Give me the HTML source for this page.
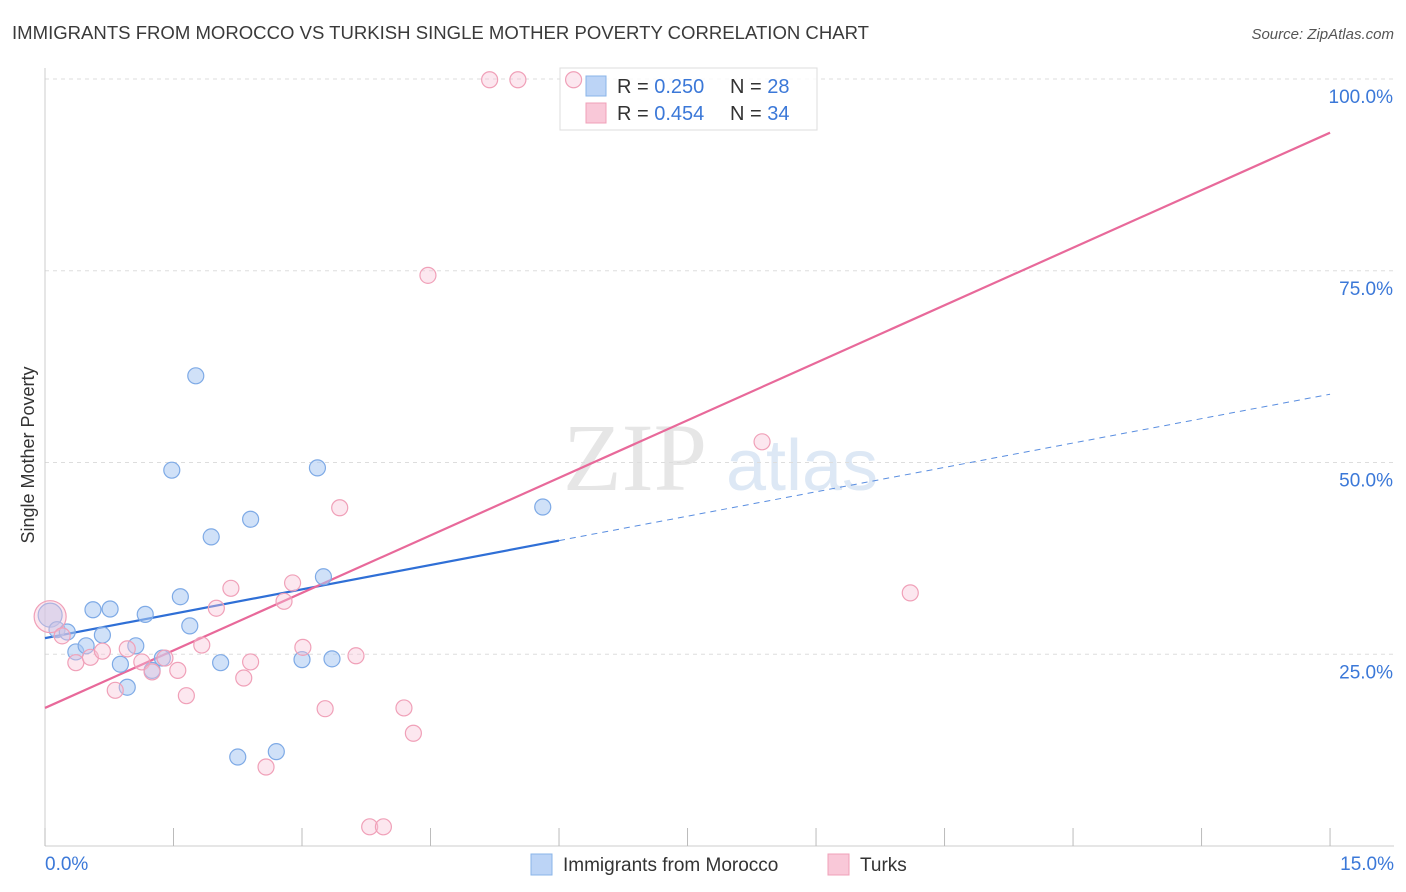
<!DOCTYPE html>
<html><head><meta charset="utf-8"><style>
body{margin:0;background:#fff;font-family:"Liberation Sans",sans-serif;}
svg{display:block}
</style></head><body>
<svg id="chart" width="1406" height="892" xmlns="http://www.w3.org/2000/svg">
<text x="12" y="39" font-size="18" fill="#3a3a3a" textLength="857" lengthAdjust="spacingAndGlyphs">IMMIGRANTS FROM MOROCCO VS TURKISH SINGLE MOTHER POVERTY CORRELATION CHART</text>
<text x="1394" y="39" font-size="15" fill="#555" text-anchor="end" font-style="italic">Source: ZipAtlas.com</text>
<text x="34" y="455" font-size="18" fill="#333" text-anchor="middle" transform="rotate(-90 34 455)">Single Mother Poverty</text>
<g>
<text x="635" y="490" font-size="96" fill="#e6e6e6" text-anchor="middle" font-family="Liberation Serif,serif">ZIP</text>
<text x="802" y="490" font-size="72" fill="#dde8f5" text-anchor="middle">atlas</text>
</g>
<g id="grid"></g><g id="axes"></g>
<g>
<rect x="560" y="68" width="257" height="62" fill="#fff" fill-opacity="0.85" stroke="#ddd"/>
<rect x="586" y="76" width="20" height="20" fill="#bcd4f6" stroke="#8ab4e8"/>
<text x="617" y="93" font-size="20" fill="#333">R = <tspan fill="#3b78d8">0.250</tspan></text>
<text x="730" y="93" font-size="20" fill="#333">N = <tspan fill="#3b78d8">28</tspan></text>
<rect x="586" y="103" width="20" height="20" fill="#f9c8d8" stroke="#f0a0b8"/>
<text x="617" y="120" font-size="20" fill="#333">R = <tspan fill="#3b78d8">0.454</tspan></text>
<text x="730" y="120" font-size="20" fill="#333">N = <tspan fill="#3b78d8">34</tspan></text>
</g>
<g id="trends"></g><g id="pts"></g>
<g>
<rect x="531" y="854" width="21" height="21" fill="#bcd4f6" stroke="#8ab4e8"/>
<text x="563" y="871" font-size="19" fill="#333">Immigrants from Morocco</text>
<rect x="828" y="854" width="21" height="21" fill="#f9c8d8" stroke="#f0a0b8"/>
<text x="860" y="871" font-size="19" fill="#333">Turks</text>
</g>
</svg>
<script>
const blueX=[0.06,0.14,0.26,0.36,0.48,0.56,0.67,0.76,0.88,0.96,1.06,1.17,1.25,1.37,1.48,1.58,1.69,1.76,1.94,2.05,2.25,2.40,2.70,3.00,3.18,3.25,3.35,5.81];
const blueY=[30.1,28.2,27.9,25.3,26.1,30.8,27.5,30.9,23.7,20.7,26.1,30.2,22.9,24.5,49.0,32.5,28.7,61.3,40.3,23.9,11.6,42.6,12.3,24.3,49.3,35.1,24.4,44.2];
const pinkX=[0.06,0.20,0.36,0.53,0.67,0.82,0.96,1.13,1.25,1.40,1.55,1.65,1.83,2.00,2.17,2.32,2.40,2.58,2.79,2.89,3.01,3.27,3.44,3.63,3.79,3.95,4.19,4.30,4.47,5.19,5.52,6.17,8.37,10.10];
const pinkY=[29.9,27.4,23.9,24.6,25.4,20.3,25.7,24.0,22.7,24.5,22.9,19.6,26.2,31.0,33.6,21.9,24.0,10.3,31.9,34.3,25.9,17.9,44.1,24.8,2.5,2.5,18.0,14.7,74.4,99.9,99.9,99.9,52.7,33.0];
const blueTrend=[27.1,2.12];
const pinkTrend=[18.0,5.0];
const yTicks=[25,50,75,100];
const xTicks=[0,1.5,3,4.5,6,7.5,9,10.5,12,13.5,15];
const NS='http://www.w3.org/2000/svg';
const X=v=>45+v*85.67, Y=v=>846-v*7.67;
function mk(p,t,a){const e=document.createElementNS(NS,t);for(const k in a)e.setAttribute(k,a[k]);document.getElementById(p).appendChild(e);return e;}
yTicks.forEach(t=>{
 const l=mk('grid','line',{x1:45,x2:1394,y1:Y(t),y2:Y(t),stroke:'#ddd','stroke-dasharray':'4,4'});
 
 
 const tx=mk('grid','text',{x:1393,y:Y(t)+24,'font-size':19,fill:'#3b78d8','text-anchor':'end'});
 tx.textContent=t.toFixed(1)+'%';
 
 
});
mk('axes','line',{x1:45,x2:45,y1:68,y2:846,stroke:'#ccc'});
mk('axes','line',{x1:45,x2:1394,y1:846,y2:846,stroke:'#ccc'});
xTicks.forEach(t=>{
 const l=mk('axes','line',{x1:X(t),x2:X(t),y1:828,y2:846,stroke:'#bbb'});
 
 
});
[[0,'0.0%','start',45],[15,'15.0%','end',1394]].forEach(([v,s,a,x])=>{
 const tx=mk('axes','text',{x:x,y:870,'font-size':19,fill:'#3b78d8','text-anchor':a});
 tx.textContent=s;
 
 
});
let l1=mk('trends','line',{x1:X(0),y1:Y(blueTrend[0]),x2:X(6),y2:Y(blueTrend[0]+6*blueTrend[1]),stroke:'#2f6fd6','stroke-width':2.2});


let l2=mk('trends','line',{x1:X(6),y1:Y(blueTrend[0]+6*blueTrend[1]),x2:X(15),y2:Y(blueTrend[0]+15*blueTrend[1]),stroke:'#5a8ee0','stroke-width':1,'stroke-dasharray':'6,5'});


let l3=mk('trends','line',{x1:X(0),y1:Y(pinkTrend[0]),x2:X(15),y2:Y(pinkTrend[0]+15*pinkTrend[1]),stroke:'#e8699a','stroke-width':2.2});


blueX.forEach((x,i)=>{
 const c=mk('pts','circle',{cx:X(x),cy:Y(blueY[i]),r:i==0?12:8,fill:'rgba(170,200,242,0.55)',stroke:'#7eaae6','stroke-width':1.2});
 
 
});
pinkX.forEach((x,i)=>{
 const c=mk('pts','circle',{cx:X(x),cy:Y(pinkY[i]),r:i==0?16:8,fill:'rgba(248,196,214,0.4)',stroke:'#f0a0b8','stroke-width':1.2});
 
 
});
</script>
</body></html>
